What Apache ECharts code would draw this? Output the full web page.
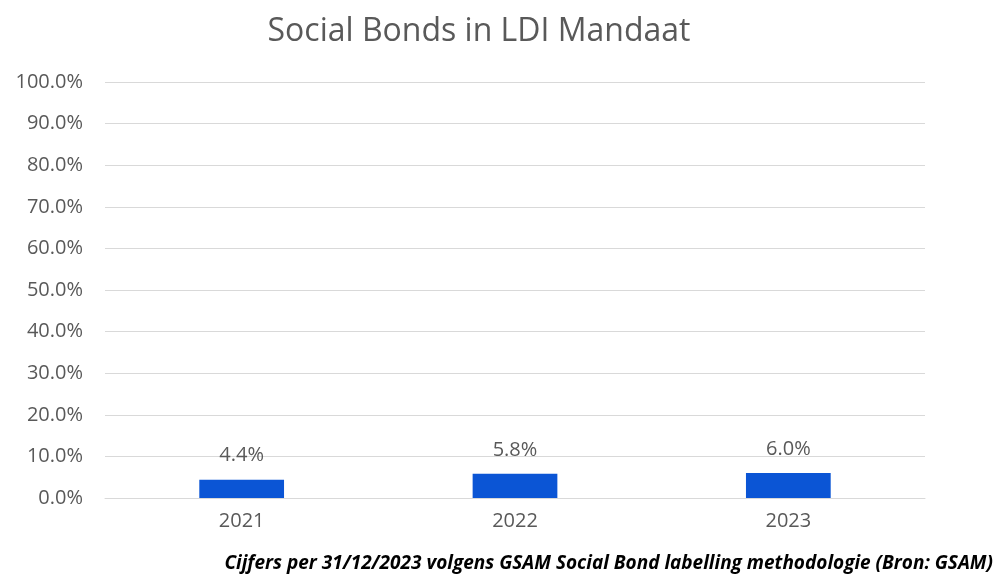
<!DOCTYPE html>
<html>
<head>
<meta charset="utf-8">
<script src="https://cdn.jsdelivr.net/npm/echarts@6/dist/echarts.min.js"></script>
<style>
  html, body { margin: 0; padding: 0; background: #ffffff; }
  #chart1 { width: 997px; height: 574px; }
</style>
</head>
<body>
<div id="chart1"></div>
<script>
// jaren en aandeel social bonds (%)
var years = ['2021', '2022', '2023'];
var shares = [4.4, 5.8, 6.0];

var myChart = echarts.init(document.getElementById('chart1'));

var option = {
	backgroundColor: '#ffffff',
	title: {
		text: 'Social Bonds in LDI Mandaat',
		left: 474,
		top: 11,
		textAlign: 'center',
		textStyle: {
			fontFamily: 'Open Sans',
			fontSize: 32,
			fontWeight: 'normal',
			color: '#595959'
		}
	},
	graphic: [{
		type: 'text',
		right: 4,
		top: 554,
		style: {
			text: 'Cijfers per 31/12/2023 volgens GSAM Social Bond labelling methodologie (Bron: GSAM)',
			font: 'italic bold 19px "Open Sans"',
			fill: '#000000'
		}
	}],
	grid: {
		left: 105,
		right: 72,
		top: 82,
		bottom: 76
	},
	xAxis: {
		type: 'category',
		data: years,
		axisLine: { lineStyle: { color: '#d9d9d9', width: 1 } },
		axisTick: { show: false },
		axisLabel: {
			color: '#595959',
			fontFamily: 'Open Sans',
			fontSize: 20,
			margin: 13
		}
	},
	yAxis: {
		type: 'value',
		min: 0,
		max: 100,
		interval: 10,
		axisLine: { show: false },
		axisTick: { show: false },
		splitLine: { lineStyle: { color: '#d9d9d9', width: 1 } },
		axisLabel: {
			color: '#595959',
			fontFamily: 'Open Sans',
			fontSize: 20,
			margin: 22,
			formatter: function (v) { return v.toFixed(1) + '%'; }
		}
	},
	series: [{
		type: 'bar',
		data: shares,
		barWidth: '31%',
		itemStyle: { color: '#0b55d5' },
		label: {
			show: true,
			position: 'top',
			distance: 14,
			color: '#595959',
			fontFamily: 'Open Sans',
			fontSize: 20,
			formatter: function (p) { return p.value.toFixed(1) + '%'; }
		}
	}]
};
myChart.setOption(option);
</script>
</body>
</html>
